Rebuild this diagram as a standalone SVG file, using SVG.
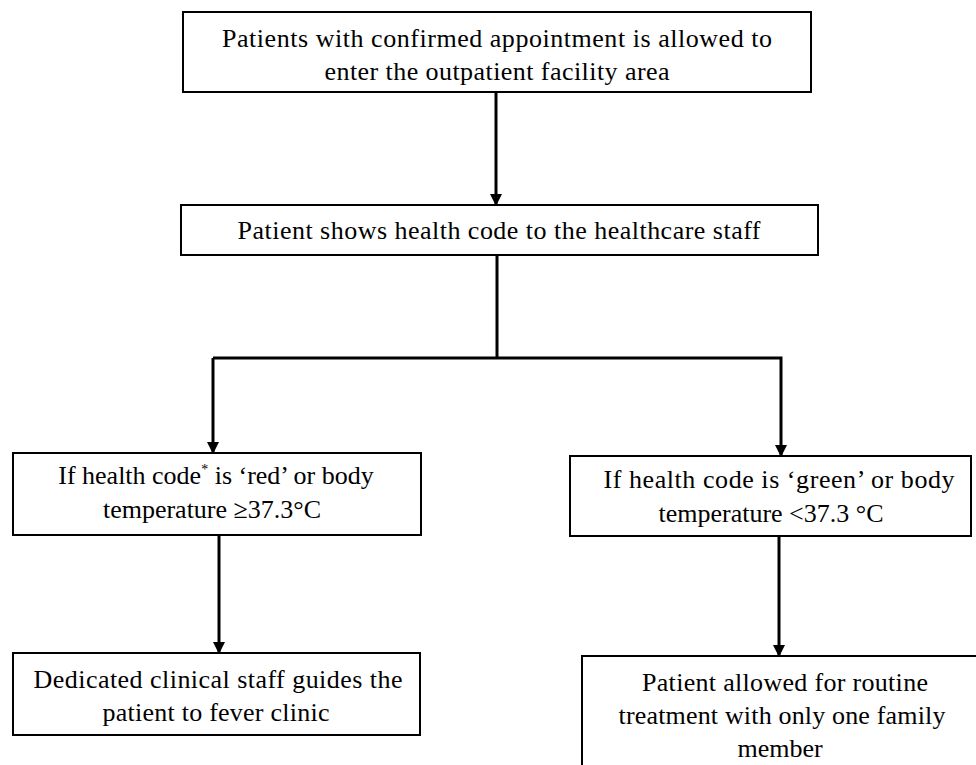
<svg xmlns="http://www.w3.org/2000/svg" width="976" height="765" viewBox="0 0 976 765">
<style>
.box{fill:#fff;stroke:#000;stroke-width:2}
.t{font-family:"Liberation Serif","Times New Roman",serif;font-size:26px;fill:#000;text-anchor:middle}
.c{fill:none;stroke:#000;stroke-width:3}
</style>
<defs>
<marker id="ah" markerWidth="12" markerHeight="12" refX="10" refY="6" orient="auto" markerUnits="userSpaceOnUse">
<path d="M0,0 L12,6 L0,12 Z" fill="#000"/>
</marker>
</defs>
<rect width="976" height="765" fill="#fff"/>
<g id="connectors">
<line class="c" x1="496" y1="92" x2="496" y2="204" marker-end="url(#ah)"/>
<polyline class="c" points="497,255 497,358"/>
<polyline class="c" points="213,358 781,358 781,455" marker-end="url(#ah)"/>
<line class="c" x1="213" y1="358" x2="213" y2="452" marker-end="url(#ah)"/>
<line class="c" x1="219" y1="535" x2="219" y2="652" marker-end="url(#ah)"/>
<line class="c" x1="779" y1="536" x2="779" y2="655" marker-end="url(#ah)"/>
</g>
<g id="n1">
<rect class="box" x="183" y="12" width="628" height="80"/>
<text class="t" x="497" y="47" textLength="550" lengthAdjust="spacing">Patients with confirmed appointment is allowed to</text>
<text class="t" x="497" y="80" textLength="345" lengthAdjust="spacing">enter the outpatient facility area</text>
</g>
<g id="n2">
<rect class="box" x="181" y="205" width="637" height="50"/>
<text class="t" x="499" y="239" textLength="523" lengthAdjust="spacing">Patient shows health code to the healthcare staff</text>
</g>
<g id="n3">
<rect class="box" x="13" y="453" width="408" height="82"/>
<text class="t" x="216" y="484">If health code<tspan font-size="14" dy="-10">*</tspan><tspan dy="10"> is ‘red’ or body</tspan></text>
<text class="t" x="212" y="518">temperature ≥37.3°C</text>
</g>
<g id="n4">
<rect class="box" x="570" y="456" width="401" height="80"/>
<text class="t" x="779" y="488" textLength="351" lengthAdjust="spacing">If health code is ‘green’ or body</text>
<text class="t" x="771" y="522">temperature &lt;37.3 °C</text>
</g>
<g id="n5">
<rect class="box" x="13" y="653" width="407" height="82"/>
<text class="t" x="218" y="688" textLength="369" lengthAdjust="spacing">Dedicated clinical staff guides the</text>
<text class="t" x="216" y="721" textLength="227" lengthAdjust="spacing">patient to fever clinic</text>
</g>
<g id="n6">
<rect class="box" x="582" y="656" width="400" height="120"/>
<text class="t" x="785" y="691" textLength="286" lengthAdjust="spacing">Patient allowed for routine</text>
<text class="t" x="782" y="724" textLength="327" lengthAdjust="spacing">treatment with only one family</text>
<text class="t" x="780" y="757">member</text>
</g>
</svg>
